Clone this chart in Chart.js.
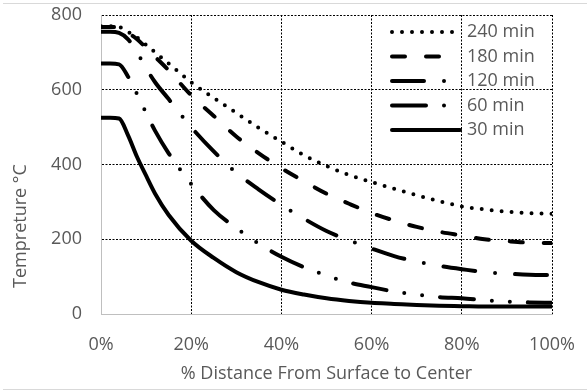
<!DOCTYPE html>
<html>
<head>
<meta charset="utf-8">
<script src="https://cdn.jsdelivr.net/npm/chart.js@4.4.1/dist/chart.umd.min.js"></script>
<style>
  html, body { margin: 0; padding: 0; background: #fff; }
  #wrap { position: relative; width: 587px; height: 392px; }
  #frame {
    position: absolute; left: 3px; right: 0; top: 3px; height: 385px;
    border-top: 1px solid #d9d9d9; border-bottom: 1px solid #d9d9d9;
    pointer-events: none;
  }
</style>
</head>
<body>
<div id="wrap">
  <canvas id="chart" width="587" height="392"></canvas>
  <div id="frame"></div>
</div>
<script>
// % distance from the surface towards the centre
const distance = [0, 2, 4, 6, 8, 10, 12, 15, 20, 25, 30, 35, 40, 45, 50, 55, 60, 65, 70, 75, 80, 85, 90, 95, 100]

// temperature (°C) profiles after each heating time
const temp240 = [770, 770, 768, 755, 740, 720, 700, 670, 620, 578, 538, 498, 461, 425, 396, 372, 353, 335, 318, 302, 288, 280, 274, 270, 268]
const temp180 = [768, 768, 765, 752, 735, 712, 688, 652, 585, 530, 475, 430, 390, 355, 322, 295, 270, 250, 233, 220, 210, 200, 195, 191, 190]
const temp120 = [755, 755, 752, 735, 700, 658, 620, 575, 500, 435, 378, 333, 292, 255, 222, 197, 175, 155, 140, 129, 120, 112, 108, 105, 104]
const temp60 = [670, 670, 668, 635, 588, 538, 490, 430, 348, 278, 230, 188, 153, 125, 103, 84, 72, 60, 52, 45, 42, 37, 33, 31, 30]
const temp30 = [525, 525, 523, 478, 420, 370, 322, 265, 196, 150, 112, 85, 65, 52, 42, 35, 30, 27, 24, 22, 21, 20, 20, 20, 20]

const seriesNames = ["240 min", "180 min", "120 min", "60 min", "30 min"]
const xTicks = [0, 20, 40, 60, 80, 100]
const yTicks = [0, 200, 400, 600, 800]

const TEXT = "#595959"
const FONT = "'Open Sans', 'DejaVu Sans', sans-serif"

function series(label, values, dash) {
  return {
    label,
    data: distance.map((x, i) => ({ x, y: values[i] })),
    borderColor: "#000",
    borderWidth: 4,
    borderDash: dash,
    borderCapStyle: "round",
    borderJoinStyle: "round",
    cubicInterpolationMode: "monotone",
    pointRadius: 0,
    fill: false
  }
}

// legend drawn inside the plot (top right) plus the rotated y title
const insideLegend = {
  id: "insideLegend",
  afterDatasetsDraw(chart) {
    const { ctx, chartArea } = chart
    const x0 = chartArea.right - 160
    const x1 = chartArea.right - 92
    ctx.save()
    chart.data.datasets.forEach((ds, i) => {
      const y = chartArea.top + 17 + i * 24.5
      ctx.beginPath()
      ctx.setLineDash(ds.borderDash || [])
      ctx.lineCap = "round"
      ctx.lineWidth = ds.borderWidth
      ctx.strokeStyle = ds.borderColor
      ctx.moveTo(x0, y)
      ctx.lineTo(x1, y)
      ctx.stroke()
      ctx.setLineDash([])
      ctx.fillStyle = TEXT
      ctx.font = "18px " + FONT
      ctx.textAlign = "left"
      ctx.textBaseline = "middle"
      ctx.fillText(ds.label, x1 + 7, y)
    })
    ctx.translate(21, 226)
    ctx.rotate(-Math.PI / 2)
    ctx.fillStyle = TEXT
    ctx.font = "18px " + FONT
    ctx.textAlign = "center"
    ctx.textBaseline = "middle"
    ctx.fillText("Tempreture °C", 0, 0)
    ctx.restore()
  }
}

const gridStyle = {
  color: "#000",
  lineWidth: 1,
  drawTicks: false
}

// in v4 border.dash styles the grid lines; the axis line itself stays solid
const axisBorder = { color: "#bfbfbf", width: 1, dash: [2, 1.5] }

// keep the plot box fixed: the outer padding alone decides where it sits
function fixBox(size) {
  return (scale) => {
    if (scale.isHorizontal()) scale.height = size
    else scale.width = size
    scale.paddingTop = 0
    scale.paddingBottom = 0
    scale.paddingLeft = 0
    scale.paddingRight = 0
  }
}

new Chart(document.getElementById("chart").getContext("2d"), {
  type: "line",
  data: {
    datasets: [
      series(seriesNames[0], temp240, [0, 10]),
      series(seriesNames[1], temp180, [13, 21]),
      series(seriesNames[2], temp120, [32, 20, 0, 20]),
      series(seriesNames[3], temp60, [34, 18, 0, 18, 0, 18]),
      series(seriesNames[4], temp30, [])
    ]
  },
  options: {
    responsive: false,
    animation: false,
    layout: { padding: { top: 15, right: 35, left: 0, bottom: 0 } },
    plugins: {
      legend: { display: false },
      tooltip: { enabled: false }
    },
    scales: {
      x: {
        type: "linear",
        min: 0,
        max: 100,
        afterBuildTicks: (scale) => { scale.ticks = xTicks.map((v) => ({ value: v })) },
        afterFit: fixBox(78),
        grid: gridStyle,
        border: axisBorder,
        ticks: {
          color: TEXT,
          padding: 20,
          maxRotation: 0,
          font: { family: FONT, size: 18 },
          callback: (v) => v + "%"
        },
        title: {
          display: true,
          text: "% Distance From Surface to Center",
          color: TEXT,
          font: { family: FONT, size: 18 },
          padding: { top: 0, bottom: 7 }
        }
      },
      y: {
        min: 0,
        max: 800,
        afterBuildTicks: (scale) => { scale.ticks = yTicks.map((v) => ({ value: v })) },
        afterFit: fixBox(101),
        grid: gridStyle,
        border: axisBorder,
        ticks: {
          color: TEXT,
          padding: 19,
          font: { family: FONT, size: 18 }
        }
      }
    }
  },
  plugins: [insideLegend]
})
</script>
</body>
</html>
